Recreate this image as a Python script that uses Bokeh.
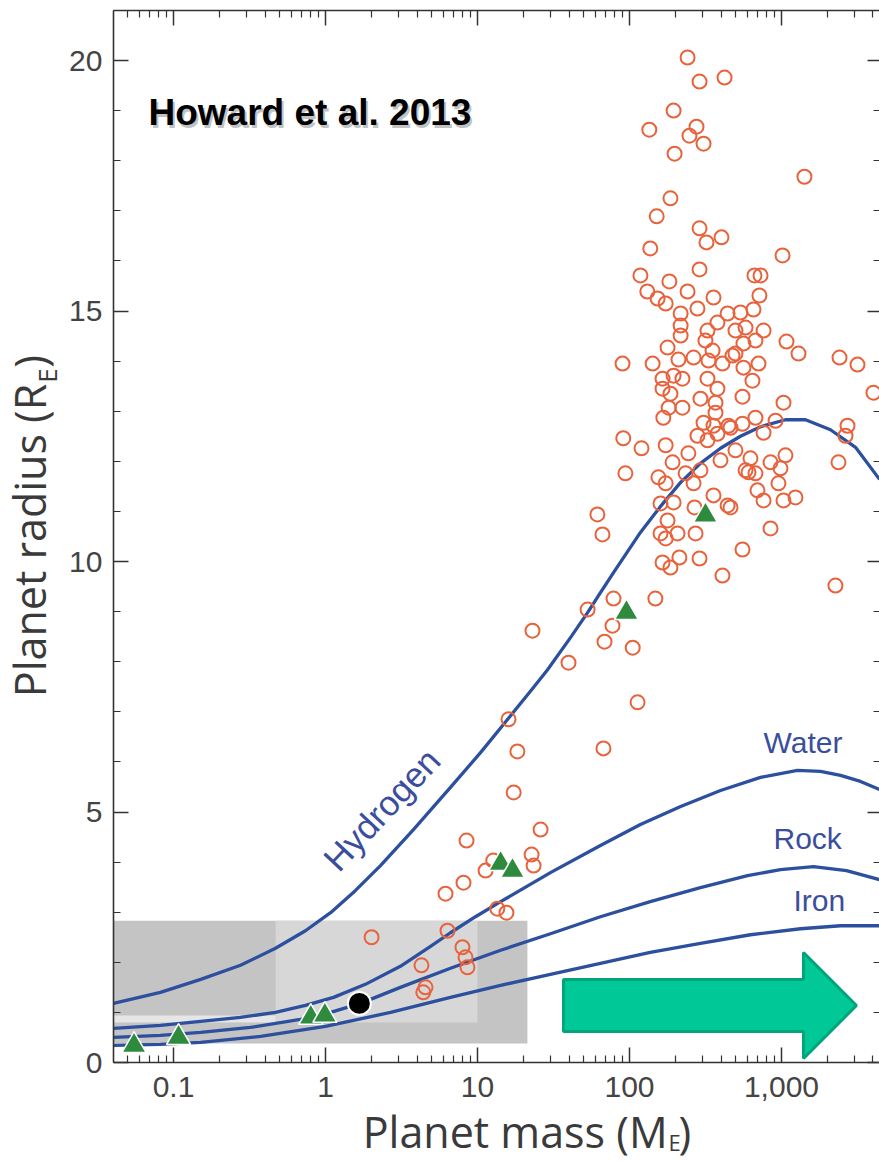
from bokeh.plotting import figure
from bokeh.models import (Range1d, LogAxis, LinearAxis, FixedTicker,
                          NumeralTickFormatter, Label)
from bokeh.embed import file_html
from bokeh.resources import INLINE

# ---------------------------------------------------------------
# Exoplanets with measured masses and radii (Earth units)
# ---------------------------------------------------------------
exo_mass = [
    241, 289, 422, 195, 135, 276, 248, 307, 198, 1416,
    186, 151, 289, 321, 403, 137, 1016, 289, 118, 183,
    664, 728, 131, 241, 716, 357, 153, 173, 280, 217,
    217, 217, 326, 379, 442, 537, 498, 580, 316, 352,
    562, 178, 264, 210, 90, 142, 331, 409, 476, 562,
    165, 195, 223, 326, 165, 186, 379, 293, 368, 554,
    181, 223, 167, 368, 307, 357, 448, 554, 1079, 1294,
    2409, 3162, 4027, 1031, 654, 762, 674, 498, 706, 644,
    674, 762, 914, 2718, 2637, 462, 280, 326, 379, 498,
    625, 847, 1062, 985, 607, 674, 2371, 955, 695, 762,
    1031, 1236, 462, 847, 554, 2265, 409, 91, 120, 94,
    173, 192, 244, 155, 173, 234, 264, 293, 397, 580,
    357, 442, 268, 160, 195, 61.5, 66.4, 178, 160, 173,
    207, 272, 165, 186, 213, 289, 78.5, 53, 23.0, 77.3,
    68.5, 105, 148, 39.7, 113, 16.0, 18.3, 67.4, 17.3, 26.0,
    8.47, 22.7, 23.4, 11.3, 8.09, 6.16, 13.5, 15.5, 6.35, 2.01,
    7.96, 8.34, 8.59, 4.28, 4.55, 4.40, 12.7,
]
exo_radius = [
    20.06, 19.58, 19.66, 19.00, 18.62, 18.68, 18.50, 18.34, 18.14, 17.68,
    17.25, 16.89, 16.65, 16.37, 16.47, 16.25, 16.11, 15.83, 15.71, 15.59,
    15.71, 15.71, 15.39, 15.39, 15.31, 15.27, 15.25, 15.15, 15.05, 14.95,
    14.71, 14.51, 14.61, 14.77, 14.95, 14.97, 14.61, 14.67, 14.41, 14.21,
    14.35, 14.27, 14.07, 14.03, 13.95, 13.95, 14.01, 13.95, 14.11, 13.87,
    13.65, 13.71, 13.65, 13.65, 13.45, 13.35, 13.45, 13.25, 13.17, 13.29,
    13.07, 13.07, 12.87, 12.97, 12.77, 12.71, 12.71, 12.75, 14.39, 14.15,
    14.07, 13.93, 13.37, 13.17, 15.03, 14.61, 14.41, 14.15, 13.95, 13.61,
    12.87, 12.57, 12.81, 12.71, 12.51, 12.67, 12.51, 12.42, 12.55, 12.22,
    12.06, 11.98, 12.12, 11.86, 11.78, 11.76, 11.98, 11.56, 11.42, 11.22,
    11.22, 11.28, 11.08, 10.66, 10.24, 9.52, 9.72, 12.46, 12.26, 11.76,
    12.32, 11.98, 12.16, 11.68, 11.56, 11.76, 11.56, 11.82, 12.02, 11.82,
    11.32, 11.12, 11.08, 11.16, 11.18, 10.94, 10.54, 10.82, 10.56, 10.46,
    10.56, 10.56, 9.98, 9.88, 10.08, 10.06, 9.26, 9.04, 8.62, 8.72,
    8.40, 8.28, 9.26, 7.98, 7.19, 6.85, 6.21, 6.27, 5.39, 4.65,
    4.43, 4.15, 3.93, 3.83, 3.59, 3.37, 3.07, 2.99, 2.63, 2.50,
    2.30, 2.10, 1.90, 1.94, 1.50, 1.40, 4.03,
]

# Solar-system planets
ss_names = ["Mercury", "Mars", "Venus", "Earth", "Uranus", "Neptune", "Saturn", "Jupiter"]
ss_mass = [0.055, 0.108, 0.80, 0.99, 14.2, 17.0, 95.5, 316]
ss_radius = [0.34, 0.50, 0.90, 0.94, 3.97, 3.83, 8.98, 10.92]

# Highlighted rocky planet
rocky_mass = [1.67]
rocky_radius = [1.18]

# Mass-radius relations for pure compositions
h_mass = [0.0403, 0.0821, 0.151, 0.276, 0.469, 0.738, 1.08, 1.57, 2.30, 3.79,
          6.64, 10.5, 16.0, 22.3, 28.9, 40.9, 53.0, 64.4, 78.5, 118,
          160, 217, 293, 397, 537, 728, 1062, 1439, 2100, 3069, 4416]
h_radius = [1.18, 1.40, 1.66, 1.94, 2.28, 2.63, 2.99, 3.43, 3.93, 4.65,
            5.49, 6.19, 6.87, 7.41, 7.84, 8.48, 8.98, 9.38, 9.78, 10.58,
            11.10, 11.58, 11.96, 12.26, 12.50, 12.69, 12.83, 12.83, 12.63, 12.28, 11.64]
w_mass = [0.0403, 0.0821, 0.151, 0.276, 0.469, 0.738, 1.13, 1.83, 3.11, 4.91,
          6.64, 9.70, 14.2, 30.2, 64.4, 118, 217, 397, 728, 1274,
          1806, 2445, 3311, 4416]
w_radius = [0.68, 0.74, 0.82, 0.90, 1.00, 1.14, 1.30, 1.56, 1.92, 2.32,
            2.59, 2.91, 3.21, 3.79, 4.33, 4.75, 5.11, 5.43, 5.69, 5.83,
            5.81, 5.73, 5.61, 5.45]
r_mass = [0.0403, 0.0821, 0.151, 0.321, 0.685, 1.08, 1.70, 3.11, 6.64, 14.2,
          30.2, 64.4, 137, 293, 598, 985, 1624, 2677, 4416]
r_radius = [0.50, 0.54, 0.60, 0.70, 0.86, 1.00, 1.18, 1.50, 1.88, 2.24,
            2.57, 2.91, 3.21, 3.49, 3.73, 3.85, 3.91, 3.83, 3.65]
fe_mass = [0.0403, 0.0821, 0.151, 0.374, 1.0, 2.68, 6.64, 14.2, 30.2, 64.4,
           137, 293, 625, 1334, 2445, 4416]
fe_radius = [0.34, 0.36, 0.40, 0.52, 0.72, 1.00, 1.30, 1.54, 1.76, 1.98,
             2.20, 2.38, 2.55, 2.67, 2.73, 2.73]

# Shaded mass/radius windows: (left, right, bottom, top)
zone_outer = (0.0403, 21.3, 0.38, 2.83)
zone_inner = (0.47, 10.0, 0.80, 2.83)
zone_strip = (0.0403, 0.47, 0.80, 0.94)

# Block arrow outline (mass, radius)
arrow_mass = [36.8, 1396, 1396, 3113, 1396, 1396, 36.8]
arrow_radius = [1.657, 1.657, 2.196, 1.138, 0.08, 0.619, 0.619]

# Axis extents in data units; the view extends past them so that the
# axis titles can sit in the margins
X_LO, X_HI = 0.04029, 4414
Y_LO, Y_HI = 0.0, 21.0

x_major = [0.1, 1, 10, 100, 1000]
x_minor = [v for v in (m * 10.0 ** k for k in range(-2, 4) for m in range(2, 10))
           if X_LO <= v <= X_HI]
y_major = [0, 5, 10, 15, 20]
y_minor = list(range(0, 22))

TICK_FONT = "Liberation Sans"
LABEL_FONT = "Open Sans"
AXIS_COLOR = "#333333"
CURVE_COLOR = "#2c4f9e"
CURVE_TEXT = "#3b4e9d"

p = figure(width=879, height=1162, x_axis_type="log", title=None,
           x_range=Range1d(0.007275, X_HI), y_range=Range1d(-1.996, 21.198),
           output_backend="svg", toolbar_location=None,
           min_border=0, min_border_left=0, min_border_right=0,
           min_border_top=0, min_border_bottom=0)
p.background_fill_color = "white"
p.border_fill_color = "white"
p.outline_line_color = None
p.xgrid.visible = False
p.ygrid.visible = False


def style_axis(ax, major_in, minor_in, labels=True):
    ax.axis_line_color = AXIS_COLOR
    ax.axis_line_width = 1.6
    ax.major_tick_line_color = AXIS_COLOR
    ax.minor_tick_line_color = AXIS_COLOR
    ax.major_tick_line_width = 1.5
    ax.minor_tick_line_width = 1.2
    ax.major_tick_in = major_in
    ax.major_tick_out = 0
    ax.minor_tick_in = minor_in
    ax.minor_tick_out = 0
    if labels:
        ax.major_label_text_font = TICK_FONT
        ax.major_label_text_font_size = "30px"
        ax.major_label_text_color = "#444444"
    else:
        ax.major_label_text_font_size = "1px"
        ax.major_label_text_alpha = 0
        ax.major_label_standoff = 0


xticker = FixedTicker(ticks=x_major, minor_ticks=x_minor)
yticker = FixedTicker(ticks=y_major, minor_ticks=y_minor)

bottom = p.xaxis[0]
bottom.ticker = xticker
bottom.formatter = NumeralTickFormatter(format="0,0.[0]")
bottom.fixed_location = Y_LO
bottom.bounds = (X_LO, X_HI)
style_axis(bottom, 15, 7)
bottom.major_label_standoff = 14

left = p.yaxis[0]
left.ticker = yticker
left.fixed_location = X_LO
left.bounds = (Y_LO, Y_HI)
style_axis(left, 15, 7)
left.major_label_standoff = 11

top_axis = LogAxis(ticker=xticker, fixed_location=Y_HI, bounds=(X_LO, X_HI))
style_axis(top_axis, 15, 7, labels=False)
p.add_layout(top_axis, "above")

right_axis = LinearAxis(ticker=yticker, fixed_location=X_HI, bounds=(Y_LO, Y_HI))
style_axis(right_axis, 12, 6, labels=False)
right_axis.axis_line_color = None
p.add_layout(right_axis, "right")

# shaded windows
for (l, r, b, t), col in [(zone_outer, "#c4c4c4"), (zone_inner, "#d7d7d7"), (zone_strip, "#e6e6e6")]:
    p.quad(left=[l], right=[r], bottom=[b], top=[t], fill_color=col, line_color=None)

# composition curves
for xs, ys in [(h_mass, h_radius), (w_mass, w_radius), (r_mass, r_radius), (fe_mass, fe_radius)]:
    p.line(xs, ys, line_color=CURVE_COLOR, line_width=3.3, line_join="round")

# exoplanets
p.scatter(exo_mass, exo_radius, marker="circle", size=14, fill_color=None,
          line_color="#e8633c", line_width=2)

# solar-system planets
p.scatter(ss_mass, ss_radius, marker="triangle", size=24, fill_color="#2e8b3e",
          line_color="white", line_width=1.5)

# highlighted planet
p.scatter(rocky_mass, rocky_radius, marker="circle", size=23, fill_color="black",
          line_color="white", line_width=2)

# block arrow
p.patch(arrow_mass, arrow_radius, fill_color="#00c896", line_color="#00a57c", line_width=3)

# curve names
p.add_layout(Label(x=2.34, y=5.05, text="Hydrogen", angle=0.82, text_align="center",
                   text_baseline="middle", text_font=TICK_FONT, text_font_size="35px",
                   text_color=CURVE_TEXT))
for txt, mx, ry in [("Water", 762, 6.39), ("Rock", 886, 4.47), ("Iron", 1199, 3.23)]:
    p.add_layout(Label(x=mx, y=ry, text=txt, text_align="left", text_baseline="alphabetic",
                       text_font=TICK_FONT, text_font_size="30px", text_color=CURVE_TEXT))

# citation
p.add_layout(Label(x=0.0685, y=18.56, x_offset=2, y_offset=-3, text="Howard et al. 2013",
                   text_font=TICK_FONT, text_font_style="bold", text_font_size="37px",
                   text_color="#999999", text_alpha=0.6))
p.add_layout(Label(x=0.0685, y=18.56, text="Howard et al. 2013",
                   text_font=TICK_FONT, text_font_style="bold", text_font_size="37px",
                   text_color="black"))

# axis titles with subscripts
LBL = dict(text_font=LABEL_FONT, text_color="#3a3a3a", text_baseline="alphabetic")
p.add_layout(Label(x=178, y=-1.377, text="Planet mass (M", text_align="right",
                   text_font_size="43px", **LBL))
p.add_layout(Label(x=180.6, y=-1.58, text="E", text_align="left",
                   text_font_size="22px", **LBL))
p.add_layout(Label(x=210, y=-1.377, text=")", text_align="left",
                   text_font_size="43px", **LBL))

p.add_layout(Label(x=0.01129, y=13.55, text="Planet radius (R", text_align="right",
                   angle=1.5708, text_font_size="43px", **LBL))
p.add_layout(Label(x=0.01461, y=13.57, text="E", text_align="left",
                   angle=1.5708, text_font_size="26px", **LBL))
p.add_layout(Label(x=0.01129, y=13.87, text=")", text_align="left",
                   angle=1.5708, text_font_size="43px", **LBL))

open("out.html", "w").write(file_html(p, INLINE))
